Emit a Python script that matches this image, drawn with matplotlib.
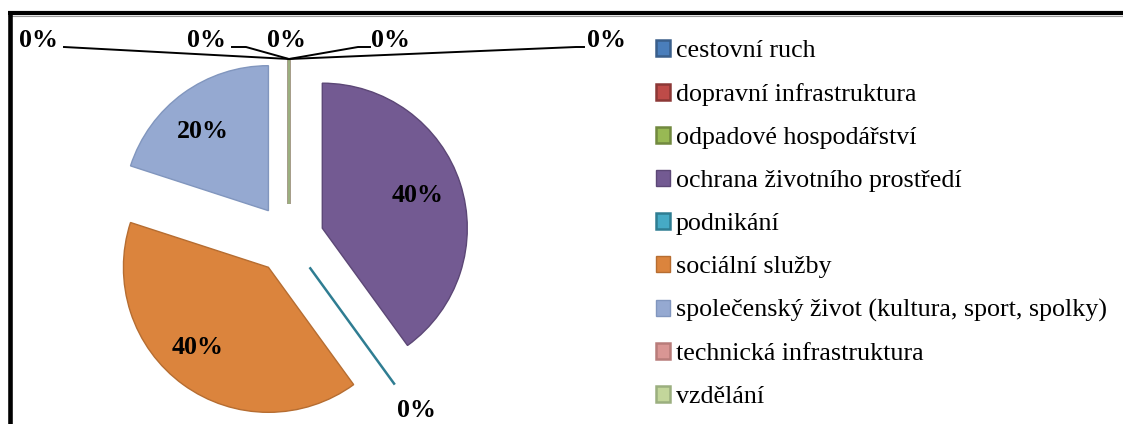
import matplotlib
matplotlib.use("Agg")
import matplotlib.pyplot as plt
import numpy as np
from matplotlib.lines import Line2D

plt.rcParams['font.family'] = ['Liberation Serif', 'DejaVu Serif']

categories = [
    "cestovní ruch",
    "dopravní infrastruktura",
    "odpadové hospodářství",
    "ochrana životního prostředí",
    "podnikání",
    "sociální služby",
    "společenský život (kultura, sport, spolky)",
    "technická infrastruktura",
    "vzdělání",
]
values = [0, 0, 0, 40, 0, 40, 20, 0, 0]

fill_colors = ["#4A7EBB", "#BE4B48", "#98B954", "#735A92", "#46AAC5",
               "#DB843D", "#95A9D1", "#D99694", "#C3D69B"]
edge_colors = ["#3A5F8B", "#8C3836", "#71893F", "#5C4776", "#2F7D92",
               "#B66D31", "#8196BE", "#B87C7A", "#9BAF7F"]

W, H = 1123, 424
fig = plt.figure(figsize=(W / 100, H / 100), dpi=100)
ax = fig.add_axes([0, 0, 1, 1])

cx, cy = 289, H - 239
R = 145
EXPL = 35
FS = 18.7


def pct_fmt(p):
    return "" if p < 0.5 else f"{p:.0f}%"


wedges, texts, autotexts = ax.pie(
    values, colors=fill_colors, startangle=90, counterclock=False,
    radius=R, center=(cx, cy), explode=[EXPL] * len(values),
    autopct=pct_fmt, pctdistance=0.7, frame=True,
    textprops=dict(fontsize=FS, fontweight="bold", color="black"),
    wedgeprops=dict(linewidth=1.0),
)
for w, ec, v in zip(wedges, edge_colors, values):
    w.set_edgecolor(ec)
    if v == 0:
        w.set_linewidth(1.8)

# label placement (pixel layout: x center, baseline y from top)
label_pos = {3: (417.5, 202), 5: (197.5, 354), 6: (203, 138.5)}
for i, t in enumerate(autotexts):
    if i in label_pos:
        px, py = label_pos[i]
        t.set_position((px, H - py))
        t.set_verticalalignment("baseline")

ax.set_xlim(0, W)
ax.set_ylim(0, H)
ax.axis("off")

# zero-value labels with leader lines (pixel layout, y measured from top)
tip = (cx, cy + EXPL + R)
zero_labels = [
    (38, 47, [(64, 47)]),
    (206, 47, [(232, 47), (246, 47)]),
    (287, 47, []),
    (390, 47, [(370, 47), (358, 47)]),
    (606, 47, [(584, 47), (576, 47)]),
]
for x, yb, path in zero_labels:
    ax.text(x, H - yb, "0%", ha="center", va="baseline",
            fontsize=FS, fontweight="bold")
    if path:
        xs = [p[0] for p in path] + [tip[0]]
        ys = [H - p[1] for p in path] + [tip[1]]
        ax.plot(xs, ys, color="black", lw=1.4, solid_joinstyle="round")

# label for podnikání
ax.text(417, H - 417, "0%", ha="center", va="baseline",
        fontsize=FS, fontweight="bold")

leg = ax.legend(
    wedges, categories, loc="upper left",
    bbox_to_anchor=(656 / W, 1 - 40 / H), bbox_transform=fig.transFigure,
    frameon=False, fontsize=FS, handlelength=0.55, handleheight=0.55,
    handletextpad=0.22, labelspacing=0.81, borderpad=0, borderaxespad=0,
)

# chart frame
fig.add_artist(Line2D([8 / W, 1.0], [1 - 13 / H, 1 - 13 / H],
                      transform=fig.transFigure, color="black", lw=3.0,
                      solid_capstyle="butt"))
fig.add_artist(Line2D([8 / W, 1.0], [1 - 15.8 / H, 1 - 15.8 / H],
                      transform=fig.transFigure, color="#9a9a9a", lw=0.8,
                      solid_capstyle="butt"))
fig.add_artist(Line2D([9.8 / W, 9.8 / W], [0, 1 - 11 / H],
                      transform=fig.transFigure, color="black", lw=3.3,
                      solid_capstyle="butt"))

fig.savefig("out.png", dpi=100)
